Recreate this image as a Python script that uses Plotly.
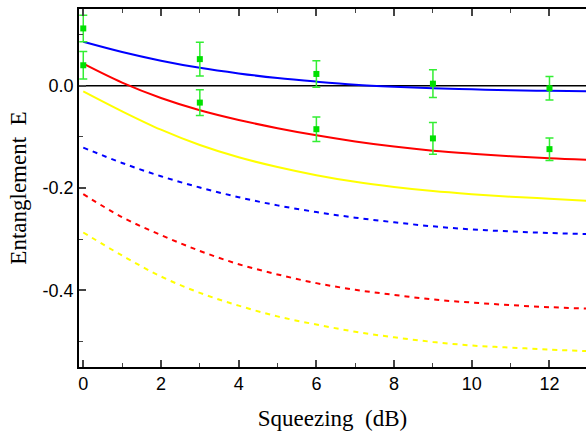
import plotly.graph_objects as go

# ---- data ----
x_curve = [0, 1, 2, 3, 4, 5, 6, 7, 8, 9, 10, 11, 12, 13]
blue_solid = [0.086, 0.066, 0.049, 0.035, 0.024, 0.015, 0.008, 0.002, -0.002, -0.005, -0.007, -0.009, -0.010, -0.011]
red_solid = [0.043, 0.006, -0.024, -0.048, -0.067, -0.083, -0.097, -0.109, -0.119, -0.127, -0.133, -0.138, -0.142, -0.145]
yellow_solid = [-0.011, -0.050, -0.086, -0.116, -0.140, -0.159, -0.175, -0.188, -0.198, -0.206, -0.212, -0.217, -0.221, -0.225]
blue_dash = [-0.121, -0.151, -0.177, -0.199, -0.218, -0.234, -0.247, -0.258, -0.267, -0.275, -0.281, -0.285, -0.288, -0.290]
red_dash = [-0.212, -0.257, -0.292, -0.323, -0.349, -0.369, -0.386, -0.399, -0.409, -0.418, -0.424, -0.429, -0.433, -0.436]
yellow_dash = [-0.287, -0.332, -0.373, -0.405, -0.430, -0.451, -0.467, -0.481, -0.492, -0.501, -0.508, -0.512, -0.516, -0.519]

x_data = [0, 3, 6, 9, 12]
data_a = [0.112, 0.052, 0.023, 0.004, -0.005]
err_a = [0.026, 0.033, 0.026, 0.027, 0.023]
data_b = [0.040, -0.033, -0.085, -0.103, -0.124]
err_b = [0.027, 0.025, 0.024, 0.031, 0.022]

x_ticks = [0, 2, 4, 6, 8, 10, 12]
y_ticks = [-0.4, -0.2, 0.0]
y_tick_labels = ["-0.4", "-0.2", "0.0"]

fig = go.Figure()

# zero line
fig.add_trace(go.Scatter(x=[-0.2, 13.2], y=[0, 0], mode="lines",
                         line=dict(color="black", width=1.5), hoverinfo="skip"))

curves = [
    (blue_solid, "#0000ff", "solid"),
    (red_solid, "#ff0000", "solid"),
    (yellow_solid, "#ffff00", "solid"),
    (blue_dash, "#0000ff", "5px,5px"),
    (red_dash, "#ff0000", "5px,5px"),
    (yellow_dash, "#ffff00", "5px,5px"),
]
for ys, col, dash in curves:
    fig.add_trace(go.Scatter(x=x_curve, y=ys, mode="lines", line_shape="spline",
                             line=dict(color=col, width=2, dash=dash)))

for ys, es in [(data_a, err_a), (data_b, err_b)]:
    fig.add_trace(go.Scatter(
        x=x_data, y=ys, mode="markers",
        marker=dict(symbol="square", size=6, color="#00e000"),
        error_y=dict(type="data", array=es, visible=True, color="#33ee33",
                     thickness=1.5, width=4)))

fig.update_layout(
    width=586, height=432,
    margin=dict(l=79, r=0, t=9, b=65),
    paper_bgcolor="white", plot_bgcolor="white",
    showlegend=False,
    font=dict(family="Liberation Sans, Arial, sans-serif", size=18, color="black"),
)
fig.update_xaxes(
    range=[-0.11, 12.94], tickvals=x_ticks, ticks="inside", ticklen=7, tickwidth=1.5,
    showline=True, linecolor="black", linewidth=1.5, mirror="ticks",
    showgrid=False, zeroline=False, automargin=False,
    minor=dict(ticks="inside", ticklen=4, dtick=1, tick0=0, tickwidth=1.2, showgrid=False),
    tickfont=dict(size=18),
    title=dict(text="Squeezing\u00a0\u00a0(dB)",
               font=dict(family="Liberation Serif, Times New Roman, serif", size=23),
               standoff=17),
)
fig.update_yaxes(
    range=[-0.55, 0.15], tickvals=y_ticks, ticktext=y_tick_labels,
    ticks="inside", ticklen=7, tickwidth=1.5,
    showline=True, linecolor="black", linewidth=1.5,
    showgrid=False, zeroline=False, automargin=False,
    minor=dict(ticks="inside", ticklen=4, tickvals=[-0.5, -0.3, -0.1, 0.1], tickwidth=1.2, showgrid=False),
    tickfont=dict(size=18),
    title=dict(text="Entanglement\u00a0\u00a0E",
               font=dict(family="Liberation Serif, Times New Roman, serif", size=23),
               standoff=10),
)

fig.write_html("out.html", config={"displayModeBar": False},
               post_script="document.body.style.margin='0';document.body.style.overflow='hidden';")
